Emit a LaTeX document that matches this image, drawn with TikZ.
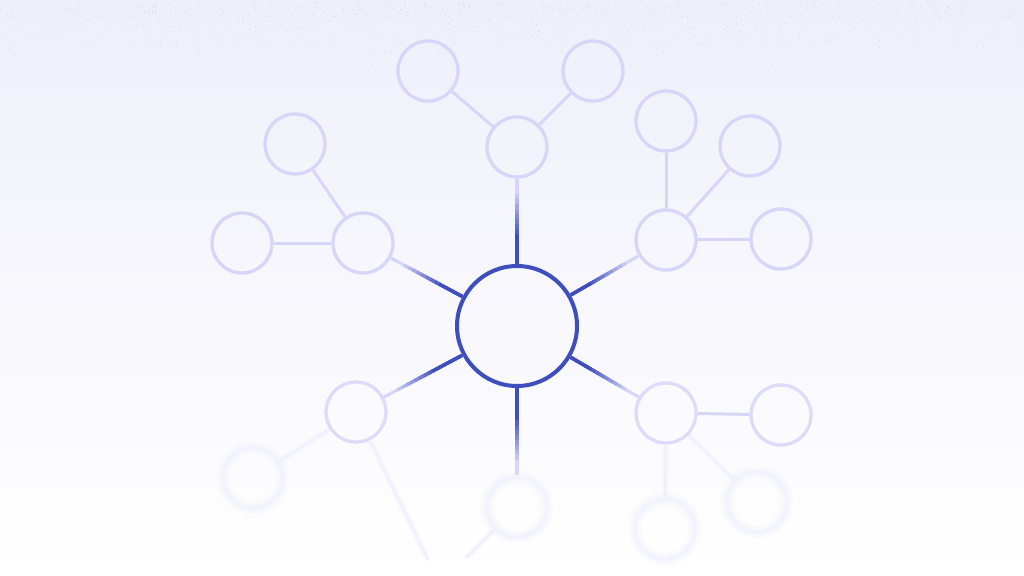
\documentclass[tikz,border=0pt]{standalone}

\definecolor{hubblue}{RGB}{62,78,190}
\definecolor{lite}{RGB}{214,214,249}
\definecolor{bgtop}{RGB}{239,239,250}
\definecolor{bgmid}{RGB}{245,245,252}
\definecolor{speck}{RGB}{220,220,249}

\begin{document}
\begin{tikzpicture}[x=1pt,y=-1pt,
        hub/.style={circle, draw=hubblue, line width=4pt, minimum size=120pt, inner sep=0pt},
        leaf/.style={circle, draw=lite, line width=3.3pt, minimum size=60pt, inner sep=0pt},
        dimleaf/.style={leaf, draw=lite!85!white},
        ghost/.style={leaf, draw=lite!30!white, line width=5pt,
            preaction={draw=lite, line width=12pt, draw opacity=.1}},
        twig/.style={draw=lite, line width=3pt},
        ghosttwig/.style={draw=lite!35!white, line width=3pt,
            preaction={draw=lite, line width=7pt, draw opacity=.07}},
        spoke/.style={draw=lite, line width=3.2pt}]
    % background
    \shade[top color=bgtop, middle color=bgmid, bottom color=white] (0,0) rectangle (1024,575);
    \useasboundingbox (0,0) rectangle (1024,575);
    \pgfmathsetseed{7}
    \foreach \i in {1,...,1000} {
        \pgfmathsetmacro\dx{1024*rnd}
        \pgfmathsetmacro\dy{2+72*rnd*rnd}
        \fill[speck] (\dx,\dy) rectangle +(1,1);
    }

    \node[hub] (hub) at (517,326) {};

    \node[leaf] (n) at (517,147) {};
    \node[leaf] (nw) at (363,243) {};
    \node[leaf] (ne) at (666,240) {};
    \node[dimleaf] (sw) at (356,412) {};
    \node[dimleaf] (se) at (666,413) {};
    \node[ghost] (s) at (517,507) {};

    \node[leaf] (n1) at (428,71) {};
    \node[leaf] (n2) at (593,71) {};
    \node[leaf] (nw1) at (295,144) {};
    \node[leaf] (nw2) at (242,243) {};
    \node[leaf] (ne1) at (666,121) {};
    \node[leaf] (ne2) at (750,146) {};
    \node[leaf] (ne3) at (781,239) {};
    \node[dimleaf] (se1) at (781,415) {};
    \node[ghost] (se2) at (757,502) {};
    \node[ghost] (se3) at (665,529) {};
    \node[ghost] (sw1) at (253,478) {};
    \coordinate (sw2) at (428,560);
    \coordinate (s2) at (466,558);

    \foreach \a/\b in {n/n1,n/n2,nw/nw1,nw/nw2,ne/ne1,ne/ne2,ne/ne3,se/se1}
        \draw[twig] (\a) -- (\b);
    \foreach \a/\b in {sw/sw1,sw/sw2,s/s2,se/se2,se/se3}
        \draw[ghosttwig] (\a) -- (\b);

    % spokes, dark at the hub
    \foreach \c in {n,nw,ne,sw,se,s} {
        \draw[spoke] (hub) -- (\c);
        \foreach \d in {70,65,...,30} {
            \pgfmathsetmacro\s{85-\d}
            \pgfmathtruncatemacro\p{100*(75-\d)/45}
            \draw[spoke, draw=hubblue!\p!lite, shorten >=\s pt] (hub) -- (\c);
        }
    }
\end{tikzpicture}
\end{document}
